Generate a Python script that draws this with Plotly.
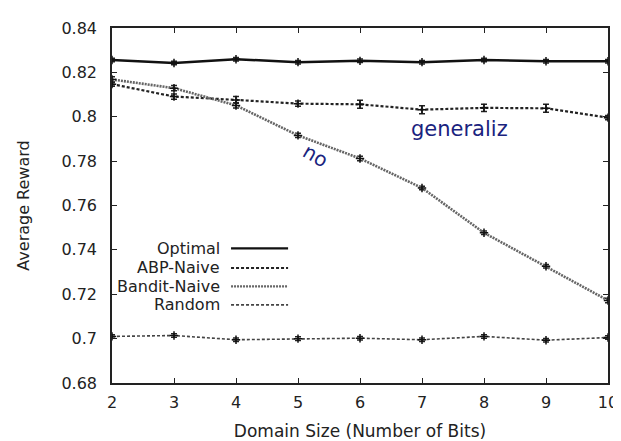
import plotly.graph_objects as go

bits = [2, 3, 4, 5, 6, 7, 8, 9, 10]
optimal = [0.8256, 0.8242, 0.8259, 0.8246, 0.8252, 0.8246, 0.8256, 0.8250, 0.8250]
optimal_err = [0.0008, 0.0008, 0.0008, 0.0008, 0.0008, 0.0008, 0.0008, 0.0008, 0.0008]
abp_naive = [0.8147, 0.8091, 0.8076, 0.8059, 0.8056, 0.8032, 0.8040, 0.8038, 0.7996]
abp_err = [0.0010, 0.0012, 0.0015, 0.0012, 0.0018, 0.0018, 0.0016, 0.0018, 0.0010]
bandit_naive = [0.8168, 0.8129, 0.8051, 0.7916, 0.7812, 0.7679, 0.7477, 0.7326, 0.7172]
bandit_err = [0.0012, 0.0012, 0.0012, 0.0010, 0.0010, 0.0008, 0.0008, 0.0008, 0.0010]
random_vals = [0.7010, 0.7014, 0.6995, 0.7000, 0.7002, 0.6995, 0.7010, 0.6993, 0.7005]
random_err = [0.0008, 0.0008, 0.0008, 0.0008, 0.0008, 0.0008, 0.0008, 0.0008, 0.0008]

legend_labels = ["Optimal", "ABP-Naive", "Bandit-Naive", "Random"]
y_ticks = [0.68, 0.7, 0.72, 0.74, 0.76, 0.78, 0.8, 0.82, 0.84]
y_tick_text = ["0.68", "0.7", "0.72", "0.74", "0.76", "0.78", "0.8", "0.82", "0.84"]

styles = [
    dict(color="#111111", width=2.5, dash="solid"),
    dict(color="#222222", width=2.2, dash="3px,2px"),
    dict(color="#666666", width=2.6, dash="2px,1px"),
    dict(color="#444444", width=1.6, dash="3px,2px"),
]
series = [
    (optimal, optimal_err),
    (abp_naive, abp_err),
    (bandit_naive, bandit_err),
    (random_vals, random_err),
]

fig = go.Figure()
for (vals, errs), st, name in zip(series, styles, legend_labels):
    fig.add_trace(go.Scatter(
        x=bits, y=vals, name=name, mode="lines+markers",
        line=dict(color=st["color"], width=st["width"], dash=st["dash"]),
        marker=dict(symbol="cross-thin", size=6, line=dict(color="#111111", width=1.5)),
        error_y=dict(type="data", array=errs, visible=True, color="#222222",
                     thickness=1.5, width=3),
        showlegend=False,
    ))

font = "DejaVu Sans, Liberation Sans, sans-serif"

# manual legend (gnuplot style: text right, sample line left)
row_y = [0.379, 0.324, 0.272, 0.220]
for name, st, yy in zip(legend_labels, styles, row_y):
    fig.add_annotation(xref="paper", yref="paper", x=0.222, y=yy, text=name,
                       showarrow=False, xanchor="right", yanchor="middle",
                       font=dict(family=font, size=16, color="#222222"))
    fig.add_shape(type="line", xref="paper", yref="paper", x0=0.240, x1=0.355,
                  y0=yy, y1=yy,
                  line=dict(color=st["color"], width=min(st["width"], 2.2), dash=st["dash"]))

fig.add_annotation(x=7.6, y=0.7947, text="generaliz", showarrow=False,
                   font=dict(family=font, size=21, color="#1a237e"))
fig.add_annotation(x=5.29, y=0.7822, text="no", showarrow=False, textangle=30,
                   font=dict(family=font, size=20, color="#1a237e"))

# page body has an 8px default margin, so margins are offset by it
fig.update_layout(
    width=621, height=441,
    margin=dict(l=104, r=21, t=11, b=66),
    paper_bgcolor="white", plot_bgcolor="white",
    font=dict(family=font, size=15, color="#222222"),
)
fig.update_xaxes(
    range=[2, 10], tickvals=bits, ticks="inside", ticklen=5, tickwidth=1,
    tickcolor="#222222", showline=True, linecolor="#222222", linewidth=1.5,
    mirror="ticks", showgrid=False, zeroline=False,
    tickfont=dict(size=16), ticklabelstandoff=4,
    title=dict(text="Domain Size (Number of Bits)", font=dict(size=17), standoff=14),
)
fig.update_yaxes(
    range=[0.68, 0.84], tickvals=y_ticks, ticktext=y_tick_text, ticks="inside",
    ticklen=5, tickwidth=1, tickcolor="#222222", showline=True, linecolor="#222222",
    linewidth=1.5, mirror="ticks", showgrid=False, zeroline=False,
    tickfont=dict(size=16), ticklabelstandoff=10,
    title=dict(text="Average Reward", font=dict(size=16), standoff=28),
)

fig.write_html("out.html", config={"displayModeBar": False})
